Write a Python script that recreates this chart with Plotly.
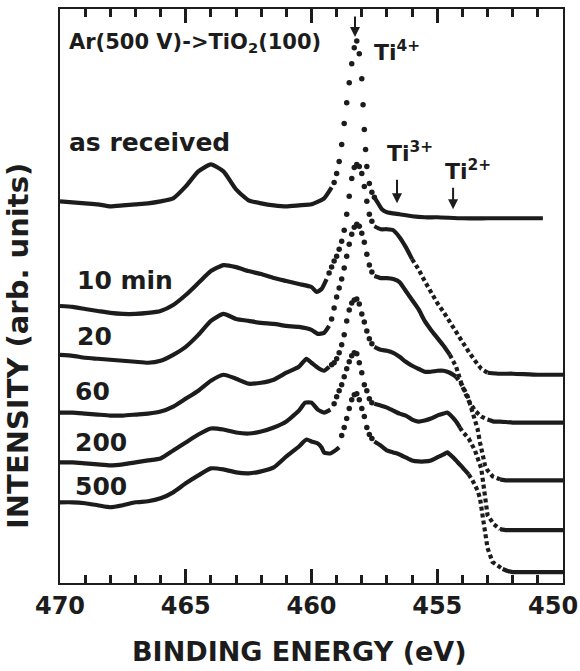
import plotly.graph_objects as go

INK = "#1c1c1c"
FONT = "DejaVu Sans"

# ---------------- data (binding energy in eV, intensity in arb. units, offset-stacked) -------------
E_AS = [470, 469.5, 469, 468.5, 468, 467.5, 467, 466.5, 466, 465.5, 465, 464.5, 464, 463.5, 463,
        462.5, 462, 461.5, 461, 460.5, 460, 459.5, 459.2,
        459.1, 459.0, 458.9, 458.8, 458.7, 458.6, 458.5, 458.4, 458.3, 458.2, 458.1, 458.0, 457.95,
        457.9, 457.85, 457.8, 457.7, 457.6, 457.5,
        457.4, 457.2, 457.0, 456.5, 456, 455.5, 455, 454, 453, 452, 451, 450.8]
I_AS = [383, 382, 381, 380, 378, 379, 380, 381, 383, 386, 398, 413, 420, 413, 395,
        384, 381, 379, 378, 379, 380, 386, 397,
        402, 411, 423, 440, 461, 482, 502, 521, 537, 544, 531, 506, 480,
        455, 435, 418, 401, 392, 387,
        383, 375, 372, 370, 368, 367, 367, 366, 366, 366, 366, 366]

E_10 = [470, 469.5, 469, 468.5, 468, 467.5, 467, 466.5, 466, 465.5, 465, 464.5, 464, 463.5, 463,
        462.5, 462, 461.5, 461, 460.5, 460, 459.8, 459.6, 459.4,
        459.3, 459.2, 459.1, 459.0, 458.9, 458.8, 458.7, 458.6, 458.5, 458.4, 458.3, 458.2, 458.1,
        458.0, 457.9, 457.8, 457.7, 457.6,
        457.5, 457.25, 457.0, 456.75, 456.5, 456.25, 456.0,
        455.75, 455.5, 455.25, 455.0, 454.75, 454.5, 454.25, 454.0, 453.75, 453.5, 453.25, 453.0,
        452.5, 452, 451, 450]
I_10 = [278, 277, 275, 273, 271, 270, 270, 271, 273, 279, 289, 301, 313, 319, 317,
        313, 310, 306, 303, 300, 297, 292, 295, 305,
        311, 317, 323, 328, 335, 343, 354, 370, 388, 406, 417, 420, 418,
        411, 398, 383, 370, 363,
        358, 355, 355, 354, 347, 337, 325,
        315, 303, 291, 281, 272, 262, 251, 241, 232, 223, 215, 211,
        210, 210, 209, 209]

E_20 = [470, 469.5, 469, 468.5, 468, 467.5, 467, 466.5, 466, 465.5, 465, 464.5, 464, 463.5, 463,
        462.5, 462, 461.5, 461, 460.5, 460, 459.75, 459.5, 459.3,
        459.2, 459.1, 459.0, 458.9, 458.8, 458.7, 458.6, 458.5, 458.4, 458.3, 458.2, 458.1, 458.0,
        457.9, 457.8, 457.7, 457.6,
        457.5, 457.25, 457.0, 456.75, 456.5, 456.25, 456.0, 455.75, 455.5, 455.25, 455.0, 454.75, 454.5,
        454.25, 454.0, 453.75, 453.5, 453.25, 453.0,
        452.75, 452.5, 452, 451, 450]
I_20 = [229, 228, 226, 225, 224, 223, 222, 221, 223, 229, 237, 249, 263, 270, 265,
        263, 261, 260, 258, 257, 254, 250, 251, 258,
        265, 276, 287, 296, 305, 316, 328, 340, 350, 357, 360, 358, 351,
        342, 330, 319, 312,
        308, 306, 306, 305, 302, 293, 284, 275, 263, 254, 246, 238, 229,
        217, 197, 183, 173, 167, 164,
        162, 162, 161, 161, 161]

E_60 = [470, 469.5, 469, 468.5, 468, 467.5, 467, 466.5, 466, 465.5, 465, 464.5, 464, 463.5, 463,
        462.5, 462, 461.5, 461, 460.5, 460.2, 460.0, 459.75, 459.5, 459.3,
        459.2, 459.1, 459.0, 458.9, 458.8, 458.7, 458.6, 458.5, 458.4, 458.3, 458.2, 458.1, 458.0,
        457.9, 457.8, 457.7, 457.6,
        457.5, 457.25, 457.0, 456.75, 456.5, 456.25, 456.0, 455.75, 455.5, 455.25, 455.0, 454.75,
        454.5, 454.25,
        454.0, 453.8, 453.6, 453.4, 453.3, 453.2, 453.1, 453.0, 452.8, 452.5,
        452.25, 452, 451, 450]
I_60 = [171, 171, 170, 169, 168, 168, 169, 170, 172, 177, 185, 193, 203, 209, 205,
        200, 201, 204, 211, 217, 225, 221, 216, 213, 217,
        219, 221, 225, 231, 239, 249, 263, 274, 281, 284, 285, 280, 270,
        262, 253, 245, 240,
        237, 234, 233, 231, 227, 222, 218, 215, 212, 212, 213, 213,
        211, 207,
        198, 188, 173, 155, 141, 128, 118, 113, 107, 104,
        103, 103, 103, 103]

E_200 = [470, 469.5, 469, 468.5, 468, 467.5, 467, 466.5, 466, 465.5, 465, 464.5, 464, 463.5, 463,
         462.5, 462, 461.5, 461, 460.5, 460.25, 460.0, 459.75, 459.5, 459.25,
         459.1, 459.0, 458.9, 458.8, 458.7, 458.6, 458.5, 458.4, 458.3, 458.2, 458.1, 458.0,
         457.9, 457.8, 457.7, 457.6,
         457.5, 457.25, 457.0, 456.75, 456.5, 456.25, 456.0, 455.75, 455.5, 455.25, 455.0, 454.75,
         454.6, 454.5, 454.25, 454.1,
         454.0, 453.75, 453.5, 453.25, 453.1, 453.0, 452.75, 452.5,
         452.25, 452, 451, 450]
I_200 = [121, 121, 120, 119, 118, 119, 121, 123, 125, 133, 141, 149, 155, 154, 151,
         150, 152, 156, 162, 173, 181, 181, 174, 171, 174,
         180, 187, 193, 199, 207, 215, 222, 228, 231, 230, 221, 211,
         199, 193, 185, 181,
         180, 178, 176, 173, 170, 168, 164, 162, 163, 165, 168, 170,
         171, 169, 162, 156,
         152, 145, 133, 115, 83, 68, 59, 54,
         53, 53, 53, 53]

E_500 = [470, 469.5, 469, 468.5, 468, 467.5, 467, 466.5, 466, 465.5, 465, 464.5, 464, 463.5, 463,
         462.5, 462, 461.5, 461, 460.5, 460.2, 460.0, 459.75, 459.6, 459.5, 459.25, 459.0, 458.9,
         458.8, 458.7, 458.6, 458.5, 458.4, 458.3, 458.2, 458.1, 458.0, 457.9, 457.8, 457.7, 457.6,
         457.5, 457.25, 457.0, 456.75, 456.5, 456.25, 456.0, 455.75, 455.5, 455.25, 455.0, 454.75,
         454.6, 454.5, 454.25, 454.0, 453.75,
         453.6, 453.4, 453.3, 453.2, 453.1, 453.0, 452.8, 452.6, 452.4,
         452.2, 452, 451, 450]
I_500 = [81, 81, 80, 78, 76, 78, 81, 82, 85, 91, 100, 108, 115, 114, 111,
         110, 112, 116, 127, 137, 144, 142, 140, 136, 131, 130, 134, 136,
         148, 156, 165, 175, 184, 189, 190, 184, 175, 167, 156, 149, 145,
         142, 138, 133, 131, 129, 126, 123, 122, 122, 123, 126, 129,
         131, 129, 123, 116, 109,
         103, 93, 85, 68, 53, 35, 21, 17, 14,
         12, 11, 11, 11]

LABELS = ["as received", "10 min", "20", "60", "200", "500"]
X_TICKS = [470, 465, 460, 455]          # 450 is written at the right edge, see below
X_TICK_TEXT = ["470", "465", "460", "455"]
X_LAST_TICK = "450"

# drawing style of each energy interval (low, high, style)
SEGMENTS = [
    [(459.2, 470, "line"), (457.5, 459.1, "dots"), (450.8, 457.5, "line")],
    [(459.4, 470, "line"), (457.6, 459.3, "dots"), (456.0, 457.5, "line"), (453.0, 456.0, "dash"), (450, 453.0, "line")],
    [(459.3, 470, "line"), (457.6, 459.2, "dots"), (454.5, 457.5, "line"), (453.0, 454.5, "dash"), (450, 453.0, "line")],
    [(459.3, 470, "line"), (457.6, 459.2, "dots"), (454.25, 457.5, "line"), (452.5, 454.25, "dash"), (450, 452.5, "line")],
    [(459.25, 470, "line"), (457.6, 459.1, "dots"), (454.1, 457.5, "line"), (452.5, 454.1, "dash"), (450, 452.5, "line")],
    [(458.9, 470, "line"), (457.6, 458.8, "dots"), (453.75, 457.5, "line"), (452.4, 453.75, "dash"), (450, 452.4, "line")],
]

SPECTRA = [(E_AS, I_AS), (E_10, I_10), (E_20, I_20), (E_60, I_60), (E_200, I_200), (E_500, I_500)]

fig = go.Figure()
for (E, I), segs, name in zip(SPECTRA, SEGMENTS, LABELS):
    for lo, hi, kind in segs:
        xs = [e for e in E if lo <= e <= hi]
        ys = [v for e, v in zip(E, I) if lo <= e <= hi]
        if kind == "dots":
            fig.add_trace(go.Scatter(x=xs, y=ys, mode="markers", name=name, hoverinfo="skip",
                                     marker=dict(size=5.5, color=INK, line=dict(width=0))))
        elif kind == "dash":
            fig.add_trace(go.Scatter(x=xs, y=ys, mode="lines", name=name, hoverinfo="skip",
                                     line=dict(width=4.2, color=INK, dash="4px,3px")))
        else:
            fig.add_trace(go.Scatter(x=xs, y=ys, mode="lines", name=name, hoverinfo="skip",
                                     line=dict(width=4.2, color=INK, shape="spline", smoothing=0.5)))

bold = dict(family=FONT, color=INK, weight="bold")
annotations = []

# curve labels
label_pos = [(469.72, 442), (469.4, 304), (469.4, 247), (469.48, 192), (469.48, 141), (469.48, 97)]
for text, (lx, ly) in zip(LABELS, label_pos):
    annotations.append(dict(x=lx, y=ly, xref="x", yref="y", text=text, showarrow=False,
                            xanchor="left", yanchor="middle", font=dict(size=25, **bold)))

annotations.append(dict(x=469.72, y=542, xref="x", yref="y", text="Ar(500 V)->TiO<sub>2</sub>(100)",
                        showarrow=False, xanchor="left", yanchor="middle", font=dict(size=21, **bold)))

for txt, lx, ly in [("Ti<sup>4+</sup>", 457.6, 534), ("Ti<sup>3+</sup>", 457.08, 433), ("Ti<sup>2+</sup>", 454.77, 414)]:
    annotations.append(dict(x=lx, y=ly, xref="x", yref="y", text=txt, showarrow=False,
                            xanchor="left", yanchor="middle", font=dict(size=22, **bold)))

# arrows marking Ti4+, Ti3+, Ti2+
for ax_e, tip_i, length in [(458.27, 548, 22), (456.6, 381, 25), (454.37, 375, 23)]:
    annotations.append(dict(x=ax_e, y=tip_i, xref="x", yref="y", text="", showarrow=True,
                            ax=0, ay=-length, arrowhead=2, arrowsize=1, arrowwidth=2,
                            arrowcolor=INK, standoff=0))

# last x tick label, kept inside the figure like the original
annotations.append(dict(x=1.034, y=-0.040, xref="paper", yref="paper", text=X_LAST_TICK,
                        showarrow=False, xanchor="right", yanchor="middle", font=dict(size=24, **bold)))

# axis titles
annotations.append(dict(x=0.477, y=-0.1198, xref="paper", yref="paper", text="BINDING ENERGY (eV)",
                        showarrow=False, xanchor="center", yanchor="middle", font=dict(size=27, **bold)))
annotations.append(dict(x=-0.0835, y=0.413, xref="paper", yref="paper", text="INTENSITY (arb. units)",
                        showarrow=False, xanchor="center", yanchor="middle", textangle=-90,
                        font=dict(size=29, **bold)))

fig.update_layout(
    width=580, height=671, autosize=False,
    margin=dict(l=60, r=17, t=7, b=88),
    paper_bgcolor="white", plot_bgcolor="white",
    showlegend=False,
    annotations=annotations,
    xaxis=dict(range=[470, 450], tickmode="array", tickvals=X_TICKS, ticktext=X_TICK_TEXT,
               ticks="inside", ticklen=14, tickwidth=2.5, tickcolor=INK,
               showline=True, linewidth=2.2, linecolor=INK, mirror="ticks",
               showgrid=False, zeroline=False,
               tickfont=dict(size=24, **bold),
               minor=dict(tickmode="linear", tick0=450, dtick=1, ticks="inside",
                          ticklen=8, tickwidth=2.5, tickcolor=INK, showgrid=False)),
    yaxis=dict(range=[0, 576], showticklabels=False, ticks="", showline=True, linewidth=2.2,
               linecolor=INK, mirror=True, showgrid=False, zeroline=False),
)

fig.write_html("out.html")
